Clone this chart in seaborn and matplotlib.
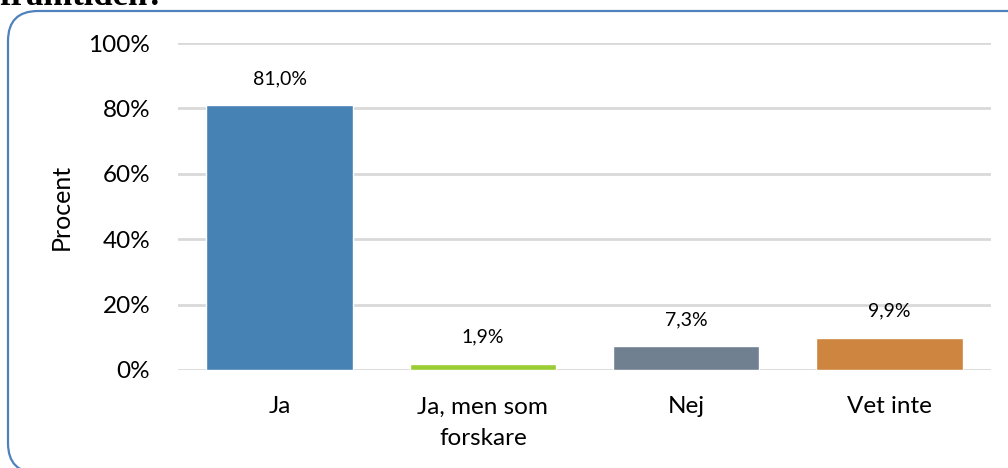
import matplotlib
matplotlib.use("Agg")
import matplotlib.pyplot as plt
import seaborn as sns
import pandas as pd
from matplotlib.patches import FancyBboxPatch
from matplotlib.ticker import FuncFormatter

categories = ["Ja", "Ja, men som\nforskare", "Nej", "Vet inte"]
values = [0.810, 0.019, 0.073, 0.099]
value_labels = ["81,0%", "1,9%", "7,3%", "9,9%"]
colors = ["#4682B4", "#9ACD32", "#708090", "#CD853F"]
yticks = [0, 0.2, 0.4, 0.6, 0.8, 1.0]

sns.set_theme(style="white")
plt.rcParams["font.family"] = ["Lato", "DejaVu Sans"]

fig = plt.figure(figsize=(10.08, 4.68), dpi=100)

# background frame axes (pixel coordinates)
bg = fig.add_axes([0, 0, 1, 1])
bg.set_xlim(0, 1008)
bg.set_ylim(468, 0)
bg.axis("off")
frame = FancyBboxPatch((8, 11), 1040, 462,
                       boxstyle="round,pad=0,rounding_size=30",
                       facecolor="white", edgecolor="#4F81BD", linewidth=1.6)
bg.add_patch(frame)
bg.text(0, 5, "framtiden?", fontsize=25, fontweight="bold",
        family=["Liberation Serif", "DejaVu Serif"], va="baseline", ha="left", color="black")

ax = fig.add_axes([178 / 1008, 1 - 370 / 468, (991 - 178) / 1008, (370 - 43) / 468])
df = pd.DataFrame({"cat": categories, "val": values})
sns.barplot(data=df, x="cat", y="val", hue="cat", palette=colors, legend=False,
            width=0.72, saturation=1, ax=ax, zorder=3)

ax.set_ylim(0, 1.0)
ax.set_yticks(yticks)
ax.yaxis.set_major_formatter(FuncFormatter(lambda v, p: f"{v*100:.0f}%"))
ax.set_xticks(range(len(categories)), categories, linespacing=1.6)
ax.grid(axis="y", color="#D9D9D9", linewidth=2, zorder=0)
ax.grid(axis="x", visible=False)
ax.set_axisbelow(True)
for s in ax.spines.values():
    s.set_visible(False)
ax.tick_params(axis="y", length=0, pad=20, labelsize=17.5, colors="black")
ax.tick_params(axis="x", length=0, pad=19, labelsize=17.5, colors="black")
ax.set_xlabel("")
ax.set_ylabel("Procent", fontsize=18, labelpad=11, color="black")
ax.set_facecolor("none")

for i, (v, lab) in enumerate(zip(values, value_labels)):
    ax.annotate(lab, (i, v), xytext=(0, 13), textcoords="offset points",
                ha="center", va="bottom", fontsize=14, color="black")

fig.savefig("out.png", dpi=100)
